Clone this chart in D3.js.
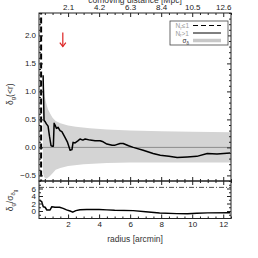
<!DOCTYPE html>
<html>
<head>
<meta charset="utf-8">
<script src="https://cdn.jsdelivr.net/npm/d3@7"></script>
<style>
  body { margin: 0; background: #fff; }
  svg { display: block; font-family: "Liberation Sans", Arial, sans-serif; }
  .domain { stroke: #222; }
  .tick line { stroke: #222; }
  .tick text { fill: #222; font-size: 8px; }
</style>
</head>
<body>
<svg id="chart"></svg>
<script>
// overdensity delta_g(<r) for N_r > 1 (solid)
const radius = [0.39, 0.42, 0.45, 0.52, 0.6, 0.71, 0.8, 0.9, 1.0, 1.05, 1.1, 1.16, 1.25, 1.35, 1.48, 1.6, 1.8, 1.95, 2.13, 2.25, 2.32, 2.45, 2.65, 2.77, 2.95, 3.1, 3.42, 3.74, 4.06, 4.26, 4.5, 4.84, 5.03, 5.35, 5.55, 5.9, 6.2, 6.84, 7.48, 7.94, 8.5, 9.03, 9.68, 10.3, 10.97, 11.6, 12.45];
const delta = [1.29, 0.9, 0.48, 0.46, 0.42, 0.38, 0.2, 0.03, 0.02, 0.02, 0.43, 0.40, 0.34, 0.36, 0.30, 0.28, 0.18, 0.10, -0.05, -0.04, 0.09, 0.08, 0.12, 0.15, 0.13, 0.15, 0.13, 0.12, 0.12, 0.10, 0.06, 0.04, 0.04, 0.07, 0.07, 0.03, 0.0, -0.05, -0.11, -0.14, -0.16, -0.18, -0.17, -0.16, -0.11, -0.12, -0.10];

// N_r <= 1 (dashed)
const dashRadius = [0.26, 0.262];
const dashDelta = [-1.0, 3.0];

// sigma envelope of random apertures
const bandUpR = [0.38, 0.5, 0.6, 0.7, 0.85, 1.0, 1.2, 1.5, 2.0, 2.5, 3.4, 4.5, 6, 8, 10, 12.52];
const bandUp = [1.27, 0.9, 0.78, 0.68, 0.6, 0.53, 0.47, 0.43, 0.39, 0.37, 0.34, 0.32, 0.3, 0.29, 0.28, 0.27];
const bandLoR = [0.38, 0.45, 0.6, 0.8, 1.0, 1.2, 1.5, 2.0, 3.0, 4.5, 6, 12.52];
const bandLo = [-0.45, -0.53, -0.56, -0.52, -0.46, -0.4, -0.37, -0.33, -0.3, -0.28, -0.27, -0.27];

// significance delta/sigma (lower panel)
const sigR = [0.15, 0.3, 0.4, 0.52, 0.63, 0.84, 0.95, 1.16, 1.45, 1.68, 1.9, 2.13, 2.3, 2.5, 2.77, 3.2, 4.0, 4.5, 5.0, 6.2, 7.0, 7.9, 9.0, 9.7, 10.3, 11.0, 12.45];
const sigV = [2.9, 2.5, 1.15, 1.0, 0.27, 0.27, 1.15, 1.0, 1.0, 0.7, 0.3, 0.0, -0.3, 0.1, 0.35, 0.4, 0.4, 0.3, 0.2, 0.1, -0.2, -0.55, -0.7, -0.75, -0.6, -0.5, -0.45];
const sigLimit = 6.3;

// arrow marker
const arrowR = 1.66, arrowFrom = 2.05, arrowTo = 1.8;

const xTicks = [2, 4, 6, 8, 10, 12];
const comoving = ["2.1", "4.2", "6.3", "8.4", "10.5", "12.6"];
const yTopTicks = [-0.5, 0.0, 0.5, 1.0, 1.5, 2.0];
const yBotTicks = [0, 2, 4, 6];

const W = 258, H = 258;
const pLeft = 39, pRight = 231, pTop = 13, pMid = 181, pBottom = 218.5;

const svg = d3.select("#chart").attr("width", W).attr("height", H);

const x = d3.scaleLinear().domain([0.125, 12.5]).range([pLeft, pRight]);
const yTop = d3.scaleLinear().domain([-0.6, 2.4]).range([pMid, pTop]);
const yBot = d3.scaleLinear().domain([-2, 8]).range([pBottom, pMid]);

svg.append("clipPath").attr("id", "clipTop").append("rect")
  .attr("x", pLeft).attr("y", pTop).attr("width", pRight - pLeft).attr("height", pMid - pTop);
svg.append("clipPath").attr("id", "clipBot").append("rect")
  .attr("x", pLeft).attr("y", pMid).attr("width", pRight - pLeft).attr("height", pBottom - pMid);

const topG = svg.append("g").attr("clip-path", "url(#clipTop)");
const botG = svg.append("g").attr("clip-path", "url(#clipBot)");

// grey band
const bandPts = bandUpR.map((r, i) => [r, bandUp[i]])
  .concat(bandLoR.map((r, i) => [r, bandLo[i]]).reverse());
topG.append("path")
  .datum(bandPts)
  .attr("fill", "#d4d4d4")
  .attr("d", d3.line().x(d => x(d[0])).y(d => yTop(d[1])));

// zero line
topG.append("line")
  .attr("x1", pLeft).attr("x2", pRight)
  .attr("y1", yTop(0)).attr("y2", yTop(0))
  .attr("stroke", "#8c8c8c").attr("stroke-width", 1);

const lineTop = d3.line().x(d => x(d[0])).y(d => yTop(d[1]));
topG.append("path")
  .datum(dashRadius.map((r, i) => [r, dashDelta[i]]))
  .attr("fill", "none").attr("stroke", "#000").attr("stroke-width", 2)
  .attr("stroke-dasharray", "6,3")
  .attr("d", lineTop);
topG.append("path")
  .datum(radius.map((r, i) => [r, delta[i]]))
  .attr("fill", "none").attr("stroke", "#000").attr("stroke-width", 1.5)
  .attr("stroke-linejoin", "round")
  .attr("d", lineTop);

// red arrow
const ax = x(arrowR), ay0 = yTop(arrowFrom), ay1 = yTop(arrowTo);
svg.append("line").attr("x1", ax).attr("x2", ax).attr("y1", ay0).attr("y2", ay1)
  .attr("stroke", "#d22").attr("stroke-width", 1.2);
svg.append("path")
  .attr("d", `M${ax - 3},${ay1 - 4} L${ax},${ay1} L${ax + 3},${ay1 - 4}`)
  .attr("fill", "none").attr("stroke", "#d22").attr("stroke-width", 1.2);

// lower panel
botG.append("line")
  .attr("x1", pLeft).attr("x2", pRight)
  .attr("y1", yBot(sigLimit)).attr("y2", yBot(sigLimit))
  .attr("stroke", "#222").attr("stroke-width", 0.8)
  .attr("stroke-dasharray", "5,2,1,2");
botG.append("path")
  .datum(sigR.map((r, i) => [r, sigV[i]]))
  .attr("fill", "none").attr("stroke", "#000").attr("stroke-width", 1.5)
  .attr("stroke-linejoin", "round")
  .attr("d", d3.line().x(d => x(d[0])).y(d => yBot(d[1])));

// axes helper: inward ticks, minor ticks half length
function ticks(g, axisFn, scale, major, minor, len, fmt) {
  g.append("g").call(axisFn(scale).tickValues(minor).tickSize(len / 2).tickFormat(""))
    .call(s => s.select(".domain").remove());
  g.append("g").call(axisFn(scale).tickValues(major).tickSize(len).tickPadding(3)
    .tickFormat(fmt || ""))
    .call(s => s.select(".domain").remove());
}

const xMinor = d3.range(0.5, 12.51, 0.5).filter(v => v % 2 !== 0);
const yTopMinor = d3.range(-6, 25, 1).filter(v => v % 5 !== 0).map(v => v / 10);
const yBotMinor = d3.range(-2, 8.01, 1).filter(v => v % 2 !== 0);

// top panel
ticks(svg.append("g").attr("transform", `translate(0,${pTop})`), d3.axisTop, x, xTicks, xMinor, -4,
  (d, i) => comoving[i]);
ticks(svg.append("g").attr("transform", `translate(0,${pMid})`), d3.axisBottom, x, xTicks, xMinor, -4);
ticks(svg.append("g").attr("transform", `translate(${pLeft},0)`), d3.axisLeft, yTop, yTopTicks, yTopMinor, -4,
  d3.format(".1f"));
ticks(svg.append("g").attr("transform", `translate(${pRight},0)`), d3.axisRight, yTop, yTopTicks, yTopMinor, -4);

// bottom panel
ticks(svg.append("g").attr("transform", `translate(0,${pMid})`), d3.axisTop, x, xTicks, xMinor, -4);
ticks(svg.append("g").attr("transform", `translate(0,${pBottom})`), d3.axisBottom, x, xTicks, xMinor, -4,
  d3.format("d"));
ticks(svg.append("g").attr("transform", `translate(${pLeft},0)`), d3.axisLeft, yBot, yBotTicks, yBotMinor, -4,
  d3.format("d"));
ticks(svg.append("g").attr("transform", `translate(${pRight},0)`), d3.axisRight, yBot, yBotTicks, yBotMinor, -4);

// frames
svg.append("rect").attr("x", pLeft).attr("y", pTop).attr("width", pRight - pLeft).attr("height", pMid - pTop)
  .attr("fill", "none").attr("stroke", "#222").attr("stroke-width", 1);
svg.append("rect").attr("x", pLeft).attr("y", pMid).attr("width", pRight - pLeft).attr("height", pBottom - pMid)
  .attr("fill", "none").attr("stroke", "#222").attr("stroke-width", 1);

// axis titles (top one is partly cut off in the original)
svg.append("text").attr("x", (pLeft + pRight) / 2).attr("y", 2.5)
  .attr("text-anchor", "middle").attr("font-size", 8.5).attr("fill", "#333")
  .text("comoving distance [Mpc]");
svg.append("text").attr("x", (pLeft + pRight) / 2).attr("y", 242)
  .attr("text-anchor", "middle").attr("font-size", 8.5).attr("fill", "#333")
  .text("radius [arcmin]");

const yl1 = svg.append("text").attr("transform", `translate(13,${yTop(0.95)}) rotate(-90)`)
  .attr("text-anchor", "middle").attr("font-size", 8.5).attr("fill", "#333");
yl1.append("tspan").text("δ");
yl1.append("tspan").attr("font-size", 6).attr("dy", 2).text("g");
yl1.append("tspan").attr("dy", -2).text("(<r)");

const yl2 = svg.append("text").attr("transform", `translate(13,${yBot(2.8)}) rotate(-90)`)
  .attr("text-anchor", "middle").attr("font-size", 8.5).attr("fill", "#333");
yl2.append("tspan").text("δ");
yl2.append("tspan").attr("font-size", 6).attr("dy", 2).text("g");
yl2.append("tspan").attr("dy", -2).text("/σ");
yl2.append("tspan").attr("font-size", 6).attr("dy", 2).text("δ");
yl2.append("tspan").attr("font-size", 4.5).attr("dy", 1.5).text("g");

// legend
const lg = svg.append("g");
lg.append("rect").attr("x", 170).attr("y", 21).attr("width", 58).attr("height", 24)
  .attr("fill", "#fff").attr("stroke", "#444").attr("stroke-width", 0.8);
const legItems = [
  { main: "N", sub: "r", rest: "≤1", dash: "5,3", color: "#000", width: 1, col: "#999" },
  { main: "N", sub: "r", rest: ">1", dash: null, color: "#000", width: 1, col: "#999" },
  { main: "σ", sub: "δ", rest: "", dash: null, color: "#c8c8c8", width: 3.5, col: "#333" }
];
legItems.forEach((d, i) => {
  const yy = 25.5 + i * 7.5;
  const t = lg.append("text").attr("x", 189).attr("y", yy + 2.5)
    .attr("text-anchor", "end").attr("font-size", 6.5).attr("fill", d.col);
  t.append("tspan").text(d.main);
  t.append("tspan").attr("font-size", 4.5).attr("dy", 1.5).text(d.sub);
  if (d.rest) t.append("tspan").attr("dy", -1.5).text(d.rest);
  lg.append("line").attr("x1", 193).attr("x2", 221).attr("y1", yy).attr("y2", yy)
    .attr("stroke", d.color).attr("stroke-width", d.width)
    .attr("stroke-dasharray", d.dash);
});
</script>
</body>
</html>
